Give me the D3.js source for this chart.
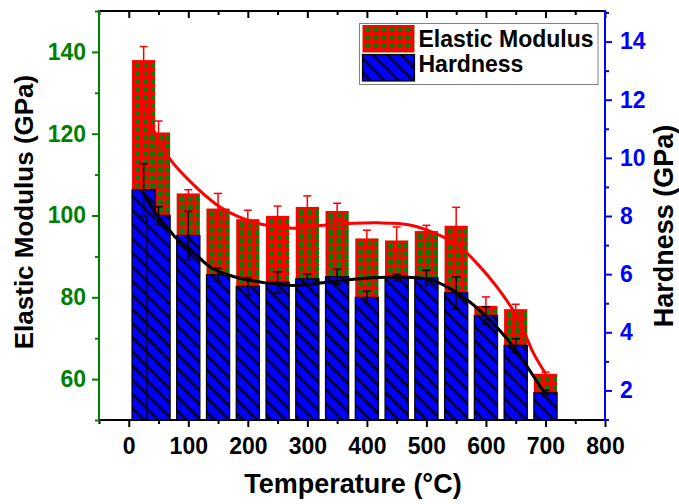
<!DOCTYPE html>
<html><head><meta charset="utf-8">
<script src="https://cdn.jsdelivr.net/npm/d3@7"></script>
<style>
html,body{margin:0;padding:0;background:#fff;}
svg{display:block;font-family:Arial,"Liberation Sans",sans-serif;font-weight:bold;}
</style></head><body>
<svg id="chart" width="679" height="504"></svg>
<script>
// ---- data ----
const temps = [25, 50, 100, 150, 200, 250, 300, 350, 400, 450, 500, 550, 600, 650, 700];
const modulus = [138.0, 120.3, 105.4, 101.7, 99.1, 99.9, 102.1, 101.1, 94.4, 93.9, 96.2, 97.5, 77.9, 77.1, 61.3];
const modulusErr = [3.3, 2.8, 0.9, 3.7, 2.2, 2.4, 2.7, 1.9, 2.0, 3.3, 1.4, 4.5, 2.2, 1.2, 0.4];
const hardness = [8.90, 8.02, 7.33, 5.98, 5.58, 5.72, 5.84, 5.91, 5.20, 5.87, 5.87, 5.36, 4.58, 3.55, 1.92];
const hardnessErr = [0.9, 0.3, 0.83, 0.23, 0.3, 0.36, 0.17, 0.26, 0.21, 0.12, 0.26, 0.55, 0.3, 0.23, 0.08];
// fitted curves
const fitModT = [25, 30, 50, 66, 106, 150, 184, 229, 276, 333, 417, 472, 528, 556, 585, 618, 652, 680, 700];
const fitModV = [128, 125, 118.4, 114.4, 107.9, 102.4, 99.7, 97.7, 96.9, 97.7, 98.2, 97.7, 94.8, 92.4, 88.3, 82.6, 75.3, 66.3, 61.4];
const fitHT = [25, 50, 69, 78, 106, 139, 179, 223, 276, 333, 388, 444, 506, 540, 573, 607, 640, 669, 696, 700];
const fitHV = [8.76, 7.96, 7.50, 7.27, 6.81, 6.21, 5.90, 5.72, 5.61, 5.72, 5.84, 5.90, 5.81, 5.50, 5.04, 4.41, 3.66, 2.83, 2.0, 1.93];
// ticks
const xMajor = [0, 100, 200, 300, 400, 500, 600, 700, 800];
const xMinor = [-50, 50, 150, 250, 350, 450, 550, 650, 750];
const yLMajor = [60, 80, 100, 120, 140];
const yLMinor = [50, 70, 90, 110, 130, 150];
const yRMajor = [2, 4, 6, 8, 10, 12, 14];
const yRMinor = [1, 3, 5, 7, 9, 11, 13, 15];
const legendLabels = ["Elastic Modulus", "Hardness"];

(function () {
const svg = d3.select("#chart");
const x = d3.scaleLinear().domain([-50, 800]).range([99, 605]);
const yL = d3.scaleLinear().domain([50, 150]).range([420, 11]);
const yR = d3.scaleLinear().domain([1, 15]).range([419.5, 12.5]);
const halfW = 19.5;
const pL = x(-50), pR = x(800), pT = yL(150), pB = yL(50);
const RED = "#FF0000", GREEN = "#008000", BLUE = "#0000FF";

const defs = svg.append("defs");
function checkPattern(id, x0, y0) {
  const p = defs.append("pattern").attr("id", id).attr("patternUnits", "userSpaceOnUse")
    .attr("x", x0).attr("y", y0).attr("width", 8).attr("height", 8);
  p.append("rect").attr("width", 8).attr("height", 8).attr("fill", RED);
  p.append("rect").attr("x", 3).attr("y", 3).attr("width", 5).attr("height", 5).attr("fill", GREEN);
}
const hp = defs.append("pattern").attr("id", "hatch").attr("patternUnits", "userSpaceOnUse")
  .attr("width", 10).attr("height", 10).attr("patternTransform", "rotate(-45)");
hp.append("rect").attr("width", 10).attr("height", 10).attr("fill", BLUE);
hp.append("line").attr("x1", 5).attr("x2", 5).attr("y1", -1).attr("y2", 11)
  .attr("stroke", "#000").attr("stroke-width", 2.3);

temps.forEach((t, i) => checkPattern("chk" + i, x(t - halfW), yL(modulus[i])));

const idx = d3.range(temps.length);
svg.append("g").selectAll("rect").data(idx).join("rect")
  .attr("x", i => x(temps[i] - halfW))
  .attr("width", i => x(temps[i] + halfW) - x(temps[i] - halfW))
  .attr("y", i => yL(modulus[i]))
  .attr("height", i => pB - yL(modulus[i]))
  .attr("fill", i => `url(#chk${i})`);

function errBars(g, vals, errs, scale, color) {
  const cap = 4;
  idx.forEach(i => {
    const cx = x(temps[i]);
    const y1 = scale(vals[i] + errs[i]), y2 = scale(vals[i] - errs[i]);
    g.append("line").attr("x1", cx).attr("x2", cx).attr("y1", y1).attr("y2", y2);
    g.append("line").attr("x1", cx - cap).attr("x2", cx + cap).attr("y1", y1).attr("y2", y1);
    g.append("line").attr("x1", cx - cap).attr("x2", cx + cap).attr("y1", y2).attr("y2", y2);
  });
  g.attr("stroke", color).attr("stroke-width", 1.5);
}
errBars(svg.append("g"), modulus, modulusErr, yL, RED);

svg.append("g").selectAll("rect").data(idx).join("rect")
  .attr("x", i => x(temps[i] - halfW))
  .attr("width", i => x(temps[i] + halfW) - x(temps[i] - halfW))
  .attr("y", i => yR(hardness[i]))
  .attr("height", i => pB - yR(hardness[i]))
  .attr("fill", "url(#hatch)")
  .attr("stroke", "#000").attr("stroke-width", 1.2);

errBars(svg.append("g"), hardness, hardnessErr, yR, "#000");

const lineMod = d3.line().x(i => x(fitModT[i])).y(i => yL(fitModV[i])).curve(d3.curveCatmullRom.alpha(0.5));
svg.append("path").attr("d", lineMod(d3.range(fitModT.length)))
  .attr("fill", "none").attr("stroke", RED).attr("stroke-width", 3);
const lineH = d3.line().x(i => x(fitHT[i])).y(i => yR(fitHV[i])).curve(d3.curveCatmullRom.alpha(0.5));
svg.append("path").attr("d", lineH(d3.range(fitHT.length)))
  .attr("fill", "none").attr("stroke", "#000").attr("stroke-width", 3);

function styleAxis(g, color, fs) {
  g.select(".domain").remove();
  g.attr("font-family", 'Arial,"Liberation Sans",sans-serif').attr("font-weight", "bold").attr("font-size", fs);
  g.selectAll(".tick line").attr("stroke", color).attr("stroke-width", 2);
  g.selectAll(".tick text").attr("fill", color);
}
styleAxis(svg.append("g").attr("transform", `translate(${pL},0)`)
  .call(d3.axisLeft(yL).tickValues(yLMajor).tickSize(7).tickPadding(6)), GREEN, 23);
styleAxis(svg.append("g").attr("transform", `translate(${pL},0)`)
  .call(d3.axisLeft(yL).tickValues(yLMinor).tickSize(4).tickFormat("")), GREEN, 23);
styleAxis(svg.append("g").attr("transform", `translate(${pR},0)`)
  .call(d3.axisRight(yR).tickValues(yRMajor).tickSize(7).tickPadding(8)), BLUE, 23);
styleAxis(svg.append("g").attr("transform", `translate(${pR},0)`)
  .call(d3.axisRight(yR).tickValues(yRMinor).tickSize(4).tickFormat("")), BLUE, 23);
styleAxis(svg.append("g").attr("transform", `translate(0,${pB})`)
  .call(d3.axisBottom(x).tickValues(xMajor).tickSize(7).tickPadding(11)), "#000", 23);
styleAxis(svg.append("g").attr("transform", `translate(0,${pB})`)
  .call(d3.axisBottom(x).tickValues(xMinor).tickSize(4).tickFormat("")), "#000", 23);
styleAxis(svg.append("g").attr("transform", `translate(0,${pT})`)
  .call(d3.axisBottom(x).tickValues(xMajor).tickSize(7).tickFormat("")), "#000", 23);
styleAxis(svg.append("g").attr("transform", `translate(0,${pT})`)
  .call(d3.axisBottom(x).tickValues(xMinor).tickSize(4).tickFormat("")), "#000", 23);

svg.append("line").attr("x1", pL).attr("x2", pR).attr("y1", pT).attr("y2", pT).attr("stroke", "#000").attr("stroke-width", 2);
svg.append("line").attr("x1", pL).attr("x2", pR).attr("y1", pB).attr("y2", pB).attr("stroke", "#000").attr("stroke-width", 2);
svg.append("line").attr("x1", pL).attr("x2", pL).attr("y1", pT - 1).attr("y2", pB + 1).attr("stroke", GREEN).attr("stroke-width", 2);
svg.append("line").attr("x1", pR).attr("x2", pR).attr("y1", pT - 1).attr("y2", pB + 1).attr("stroke", BLUE).attr("stroke-width", 2);

svg.append("text").attr("transform", "translate(32.5,212) rotate(-90)").attr("text-anchor", "middle")
  .attr("font-size", 26).attr("fill", "#000").text("Elastic Modulus (GPa)");
svg.append("text").attr("transform", "translate(673,226) rotate(-90)").attr("text-anchor", "middle")
  .attr("font-size", 27).attr("fill", "#000").text("Hardness (GPa)");
svg.append("text").attr("x", 353).attr("y", 493).attr("text-anchor", "middle")
  .attr("font-size", 27).attr("fill", "#000").text("Temperature (\u00B0C)");

const lg = svg.append("g");
lg.append("rect").attr("x", 359.5).attr("y", 23.5).attr("width", 238.5).attr("height", 61)
  .attr("fill", "#fff").attr("stroke", "#808080").attr("stroke-width", 1);
checkPattern("chkLeg", 362.5, 24);
lg.append("rect").attr("x", 362.5).attr("y", 25).attr("width", 52).attr("height", 27.5).attr("fill", "url(#chkLeg)");
lg.append("rect").attr("x", 362.5).attr("y", 54.5).attr("width", 52).attr("height", 26.5)
  .attr("fill", "url(#hatch)").attr("stroke", "#000").attr("stroke-width", 1.2);
lg.selectAll("text").data(legendLabels).join("text")
  .attr("x", 418.5).attr("y", (d, i) => i === 0 ? 46.7 : 72.3)
  .attr("font-size", 23).attr("fill", "#000").text(d => d);
})();
</script>
</body></html>
